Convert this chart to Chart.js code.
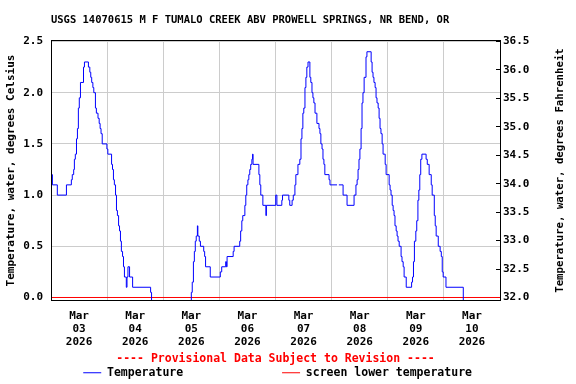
<!DOCTYPE html>
<html>
<head>
<meta charset="utf-8">
<script src="https://cdn.jsdelivr.net/npm/chart.js@4/dist/chart.umd.min.js"></script>
<style>
  html, body { margin: 0; padding: 0; background: #fff; }
</style>
</head>
<body>
<canvas id="chart" width="576" height="384"></canvas>
<script>
const chartTitle = "USGS 14070615 M F TUMALO CREEK ABV PROWELL SPRINGS, NR BEND, OR";
const leftTitle = "Temperature, water, degrees Celsius";
const rightTitle = "Temperature, water, degrees Fahrenheit";
const provisionalNote = "---- Provisional Data Subject to Revision ----";

// x = hours since Mar 03 2026 00:00, value holds until next entry (step line)
const obsHours = [
  0, 0.6, 2.7, 6.6, 8.7, 9.1, 9.7, 10.0, 10.4, 10.9, 11.3, 11.7, 12.1, 12.6, 13.9, 14.3,
  16.0, 16.6, 17.0, 17.4, 17.9, 18.3, 19.0, 19.4, 20.1, 20.6, 21.0, 21.4, 21.9, 23.9,
  24.3, 25.9, 26.3, 26.7, 27.1, 27.6, 28.0, 28.4, 28.9, 29.3, 29.7, 30.1, 30.6, 31.0, 31.4,
  32.2, 32.5, 32.9, 33.6, 34.9, 42.6, 43.0,
  60.0, 60.4, 60.9, 61.3, 61.7, 62.1, 62.6, 62.8, 63.4, 63.9, 65.3, 65.7, 66.1, 68.1,
  72.4, 73.0, 74.7, 75.0, 75.3, 77.9, 78.3, 80.7, 81.1, 81.6, 82.0, 82.9, 83.3, 83.7,
  84.2, 84.6, 85.0, 85.4, 85.9, 86.2, 86.4, 88.9, 89.3, 89.7, 90.6, 91.9, 92.1,
  96.1, 96.6, 98.7, 99.0, 101.7, 102.1, 103.1, 103.6, 104.3, 104.7, 105.6, 106.4,
  106.9, 107.3, 107.7, 108.1, 108.6, 109.0, 109.4, 109.9, 110.7, 111.1, 111.6, 112.0,
  112.4, 112.9, 113.7, 114.6, 115.0, 115.4, 115.9, 116.3, 116.7, 117.1, 118.9, 119.3,
  122.3, 122.5, 123.1, 124.9, 126.6, 129.6, 130.4, 130.9, 131.3, 131.7, 132.1, 132.6,
  133.0, 133.4, 133.9, 134.7, 135.1, 136.9, 137.3, 137.7, 138.1, 138.6, 139.0, 139.4,
  139.9, 140.3, 140.7, 141.1, 141.6, 142.0, 142.9, 143.3, 144.6, 145.0, 145.4, 145.9,
  146.3, 146.7, 147.1, 147.6, 148.0, 148.4, 148.9, 149.7, 150.1, 150.6, 151.0, 151.9,
  154.2, 154.6, 155.0, 155.4, 156.0, 156.4, 156.9, 157.3, 157.7, 158.1, 158.6, 160.4,
  160.9, 161.7, 162.6, 163.0, 163.9, 164.3, 164.7, 165.6, 166.4, 166.9, 167.3, 167.7,
  168.9, 176.3, 192
];
const obsTempC = [
  1.2, 1.1, 1.0, 1.1, 1.15, 1.2, 1.25, 1.35, 1.4, 1.55, 1.65, 1.85, 1.95, 2.1, 2.25, 2.3,
  2.25, 2.2, 2.15, 2.1, 2.05, 2.0, 1.85, 1.8, 1.75, 1.7, 1.65, 1.6, 1.5, 1.45,
  1.4, 1.3, 1.25, 1.15, 1.1, 1.0, 0.85, 0.8, 0.7, 0.65, 0.55, 0.45, 0.4, 0.3, 0.2,
  0.1, 0.2, 0.3, 0.2, 0.1, 0.05, -0.1,
  0.05, 0.15, 0.35, 0.45, 0.55, 0.6, 0.7, 0.6, 0.55, 0.5, 0.45, 0.4, 0.3, 0.2,
  0.25, 0.3, 0.35, 0.3, 0.4, 0.45, 0.5, 0.55, 0.65, 0.75, 0.8, 0.9, 1.0, 1.1,
  1.15, 1.2, 1.25, 1.3, 1.35, 1.4, 1.3, 1.2, 1.1, 1.0, 0.9, 0.8, 0.9,
  1.0, 0.9, 0.95, 1.0, 0.95, 0.9, 0.95, 1.0, 1.1, 1.2, 1.3, 1.35,
  1.55, 1.65, 1.8, 1.85, 2.05, 2.15, 2.25, 2.3, 2.15, 2.1, 2.0, 1.95,
  1.9, 1.8, 1.7, 1.65, 1.6, 1.5, 1.45, 1.35, 1.3, 1.2, 1.15, 1.1,
  1.1, null, 1.1, 1.0, 0.9, 1.0, 1.1, 1.15, 1.25, 1.35, 1.45, 1.65,
  1.9, 2.0, 2.15, 2.35, 2.4, 2.3, 2.2, 2.15, 2.1, 2.05, 1.95, 1.9,
  1.85, 1.75, 1.65, 1.6, 1.5, 1.4, 1.3, 1.2, 1.1, 1.05, 1.0, 0.9,
  0.85, 0.8, 0.7, 0.65, 0.6, 0.55, 0.5, 0.4, 0.35, 0.3, 0.2, 0.1,
  0.15, 0.2, 0.35, 0.55, 0.65, 0.75, 0.95, 1.05, 1.2, 1.35, 1.4, 1.35,
  1.3, 1.2, 1.1, 1.0, 0.8, 0.7, 0.6, 0.5, 0.45, 0.4, 0.25, 0.2,
  0.1, -0.1, -0.1
];

const screenHours = [0, 192];
const screenTempC = [0, 0];

const tickHours = [0, 12, 24, 36, 48, 60, 72, 84, 96, 108, 120, 132, 144, 156, 168, 180, 192];
const dayLabels = ["03", "04", "05", "06", "07", "08", "09", "10"];
const monthLabel = "Mar";
const yearLabel = "2026";
const celsiusTicks = [0, 0.5, 1.0, 1.5, 2.0, 2.5];
const fahrenheitTicks = [32.0, 32.5, 33.0, 33.5, 34.0, 34.5, 35.0, 35.5, 36.0, 36.5];

const yMin = -0.0293;
const yMax = 2.5098;

const MONO = "'DejaVu Sans Mono', 'Liberation Mono', monospace";
const font = size => ({ family: MONO, size: size, weight: "bold" });

const toPoints = (xs, ys) => xs.map((x, i) => ({ x: x, y: ys[i] }));

// black box round the plot, plus the right-hand axis title read bottom to top
const framePlugin = {
  id: "frame",
  afterDatasetsDraw(chart) {
    const a = chart.chartArea;
    const ctx = chart.ctx;
    const l = Math.floor(a.left) + 0.5, t = Math.floor(a.top) + 0.5;
    const r = Math.floor(a.right) + 0.5, b = Math.floor(a.bottom) + 0.5;
    ctx.save();
    ctx.strokeStyle = "#000";
    ctx.lineWidth = 1;
    ctx.strokeRect(l, t, r - l, b - t);
    ctx.restore();
  },
  afterDraw(chart) {
    const a = chart.chartArea;
    const ctx = chart.ctx;
    ctx.save();
    ctx.translate(chart.width - 16, (a.top + a.bottom) / 2);
    ctx.rotate(-Math.PI / 2);
    ctx.font = "bold 10.7px " + MONO;
    ctx.fillStyle = "#000";
    ctx.textAlign = "center";
    ctx.textBaseline = "middle";
    ctx.fillText(rightTitle, 0, 0);
    ctx.restore();
  }
};

const titleColumns = 75;
const legendColumns = [25, 27];

new Chart(document.getElementById("chart"), {
  type: "line",
  data: {
    datasets: [
      {
        label: "Temperature",
        data: toPoints(obsHours, obsTempC),
        borderColor: "#0000ff",
        backgroundColor: "#0000ff",
        borderWidth: 1,
        stepped: true,
        spanGaps: false,
        pointRadius: 0
      },
      {
        label: "screen lower temperature",
        data: toPoints(screenHours, screenTempC),
        borderColor: "#ff0000",
        backgroundColor: "#ff0000",
        borderWidth: 1,
        pointRadius: 0
      }
    ]
  },
  options: {
    responsive: false,
    animation: false,
    events: [],
    layout: { padding: 0 },
    scales: {
      x: {
        type: "linear",
        min: 0,
        max: 192,
        afterBuildTicks: s => { s.ticks = tickHours.map(v => ({ value: v })); },
        afterFit: s => { s.height = 45; },
        grid: {
          color: c => (c.tick && c.tick.value % 24 === 0) ? "#cccccc" : "rgba(0,0,0,0)",
          drawTicks: false
        },
        border: { display: false },
        ticks: {
          autoSkip: false,
          maxRotation: 0,
          padding: 9,
          color: "#000",
          font: { family: MONO, size: 11, weight: "bold", lineHeight: 1.18 },
          callback: v => v % 24 === 12 ? [monthLabel, dayLabels[(v - 12) / 24], yearLabel] : ""
        }
      },
      y: {
        position: "left",
        min: yMin,
        max: yMax,
        afterBuildTicks: s => { s.ticks = celsiusTicks.map(v => ({ value: v })); },
        afterFit: s => { s.width = 51; },
        grid: { color: "#cccccc", drawTicks: false },
        border: { display: false },
        ticks: { padding: 8, color: "#000", font: font(11), callback: v => v.toFixed(1) },
        title: { display: true, text: leftTitle, color: "#000", font: font(11), padding: { top: 5, bottom: 0 } }
      },
      y2: {
        position: "right",
        min: 32 + yMin * 1.8,
        max: 32 + yMax * 1.8,
        afterBuildTicks: s => { s.ticks = fahrenheitTicks.map(v => ({ value: v })); },
        afterFit: s => { s.width = 76; },
        grid: { drawOnChartArea: false, drawTicks: true, tickLength: -4, color: "#000" },
        border: { display: false },
        ticks: { padding: 7, color: "#000", font: font(11), callback: v => v.toFixed(1) }
      }
    },
    plugins: {
      tooltip: { enabled: false },
      title: {
        display: true,
        text: chartTitle.padEnd(titleColumns),
        color: "#000",
        font: font(10.5),
        padding: { top: 14, bottom: 13.9 }
      },
      subtitle: {
        display: true,
        position: "bottom",
        fullSize: false,
        weight: 500,
        text: provisionalNote,
        color: "#ff0000",
        font: { family: MONO, size: 11.5, weight: "bold", lineHeight: 1.0 },
        padding: { top: 8, bottom: 0 }
      },
      legend: {
        position: "bottom",
        maxHeight: 19,
        labels: {
          usePointStyle: true,
          pointStyle: "line",
          pointStyleWidth: 18,
          padding: 2,
          color: "#000",
          font: font(11.5),
          generateLabels: chart => Chart.defaults.plugins.legend.labels.generateLabels(chart)
            .map((l, i) => Object.assign(l, { text: l.text.padEnd(legendColumns[i]) }))
        }
      }
    }
  },
  plugins: [framePlugin]
});
</script>
</body>
</html>
